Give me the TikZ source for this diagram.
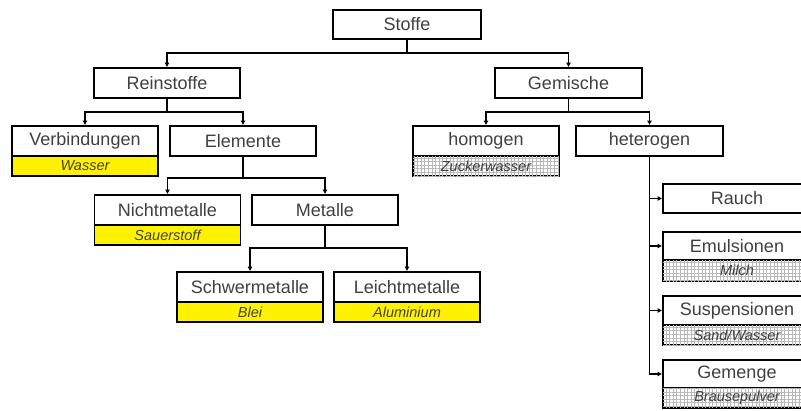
\documentclass[tikz,border=0pt]{standalone}
\usepackage{fontspec}
\setmainfont{Liberation Sans}
\usetikzlibrary{arrows.meta,patterns.meta}
\definecolor{txt}{HTML}{404040}
\tikzset{
  box/.style={draw=black, line width=1.7pt, fill=white, text=txt,
    minimum width=146pt, minimum height=30pt, inner sep=0pt, outer sep=0pt,
    font=\fontsize{18}{18}\selectfont},
  sub/.style={draw=black, line width=1.7pt, text=txt, anchor=north,
    minimum width=146pt, minimum height=20pt, inner sep=0pt, outer sep=0pt,
    font=\fontsize{14.5}{14.5}\selectfont\itshape},
  ylw/.style={sub, fill=yellow},
  grd/.style={sub, fill=white,
    postaction={pattern={Hatch[angle=0, distance=3.6pt, line width=0.9pt]},
                pattern color=black!28}},
  conn/.style={draw=black, line width=1.5pt},
  arr/.style={conn, -{Latex[length=4.5pt,width=5pt]}, shorten >=0.8pt}
}
\begin{document}
\begin{tikzpicture}[x=1pt, y=-1pt]
\clip (0,0) rectangle (801,410);
\fill[white] (0,0) rectangle (801,410);

% top level
\node[box, minimum width=148pt, minimum height=29pt] (stoffe) at (407,24.5) {Stoffe};
\node[box] (rein) at (167,83) {Reinstoffe};
\node[box, minimum width=147pt] (gem) at (568.5,83) {Gemische};

% Reinstoffe branch
\node[box] (verb) at (85,141) {Verbindungen};
\node[ylw] (verbS) at (verb.south) {Wasser};
\node[box] (elem) at (243,141) {Elemente};
\node[box] (nicht) at (167.5,210) {Nichtmetalle};
\node[ylw] (nichtS) at (nicht.south) {Sauerstoff};
\node[box] (met) at (325,210) {Metalle};
\node[box] (schwer) at (250,287) {Schwermetalle};
\node[ylw] (schwerS) at (schwer.south) {Blei};
\node[box] (leicht) at (407,287) {Leichtmetalle};
\node[ylw] (leichtS) at (leicht.south) {Aluminium};

% Gemische branch
\node[box] (homo) at (486,141) {homogen};
\node[grd] (homoS) at (homo.south) {Zuckerwasser};
\node[box, minimum width=147pt] (hetero) at (649.5,141) {heterogen};
\node[box, minimum width=148pt, minimum height=29pt] (rauch) at (737,198.5) {Rauch};
\node[box, minimum width=148pt, minimum height=28pt] (emul) at (737,246) {Emulsionen};
\node[grd, minimum width=148pt, minimum height=21pt] (emulS) at (emul.south) {Milch};
\node[box, minimum width=148pt, minimum height=29pt] (susp) at (737,310.5) {Suspensionen};
\node[grd, minimum width=148pt] (suspS) at (susp.south) {Sand/Wasser};
\node[box, minimum width=148pt, minimum height=28pt] (gemg) at (737,374) {Gemenge};
\node[grd, minimum width=148pt] (gemgS) at (gemg.south) {Brausepulver};

% connectors
\draw[arr] (stoffe.south) -- ++(0,14) -| (rein.north);
\draw[arr] (stoffe.south) -- ++(0,14) -| (gem.north);
\draw[arr] (rein.south) -- ++(0,14) -| (verb.north);
\draw[arr] (rein.south) -- ++(0,14) -| (elem.north);
\draw[arr] (gem.south) -- ++(0,14) -| (homo.north);
\draw[arr] (gem.south) -- ++(0,14) -| (hetero.north);
\draw[arr] (elem.south) -- ++(0,22) -| (nicht.north);
\draw[arr] (elem.south) -- ++(0,22) -| (met.north);
\draw[arr] (met.south) -- ++(0,23) -| (schwer.north);
\draw[arr] (met.south) -- ++(0,23) -| (leicht.north);
\draw[arr] (hetero.south) |- (gemg.west);
\draw[arr] (hetero.south |- rauch.west) -- (rauch.west);
\draw[arr] (hetero.south |- emul.west) -- (emul.west);
\draw[arr] (hetero.south |- susp.west) -- (susp.west);
\end{tikzpicture}
\end{document}
